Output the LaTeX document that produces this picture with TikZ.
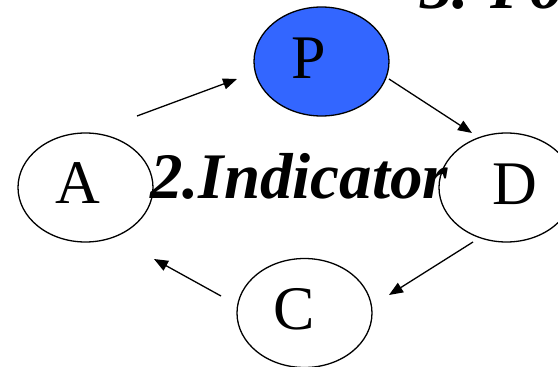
\documentclass[tikz,border=0pt]{standalone}
\usepackage{fontspec}
\setmainfont{Liberation Serif}
\definecolor{pblue}{HTML}{3366FF}
\usetikzlibrary{arrows.meta, shapes.geometric, calc}

\begin{document}
\begin{tikzpicture}[x=1pt, y=-1pt,
    state/.style={ellipse, draw, line width=1.3pt,
                  minimum width=135pt, minimum height=109pt, inner sep=0pt},
    lbl/.style={font=\fontsize{62}{62}\selectfont, inner sep=0pt},
    head/.style={font=\fontsize{65}{65}\selectfont\bfseries\itshape,
                 inner sep=0pt},
    arr/.style={-{Triangle[length=14pt, width=11pt]}, line width=1.3pt}
  ]
  \useasboundingbox (0,0) rectangle (558,367);
  \clip (0,0) rectangle (558,367);

  \node[state, label={[lbl, xshift=-8pt, yshift=4pt]center:A}]
    (A) at (85.5,187.5) {};
  \node[state, fill=pblue, label={[lbl, xshift=-13pt, yshift=3.5pt]center:P}]
    (P) at (321.5,61.5) {};
  \node[state, label={[lbl, xshift=8pt, yshift=3pt]center:D}]
    (D) at (506.5,187.5) {};
  \node[state, label={[lbl, xshift=-10.5pt, yshift=4pt]center:C}]
    (C) at (304.5,313) {};

  \node[head, anchor=base west] (ind) at (150,198) {2.Indicator};
  \node[head, anchor=base west] (pow) at (420,8) {3. Po};

  % the cycle
  \draw[arr] ($(A)+(51.5,-71.5)$) -- ($(P)+(-84.5,17.5)$);
  \draw[arr] ($(P)+(67.5,17.5)$)  -- ($(D)+(-34.5,-54.5)$);
  \draw[arr] ($(D)+(-33.5,54.5)$) -- ($(C)+(84.5,-18)$);
  \draw[arr] ($(C)+(-83.5,-17)$)  -- ($(A)+(68.5,71.5)$);
\end{tikzpicture}
\end{document}
